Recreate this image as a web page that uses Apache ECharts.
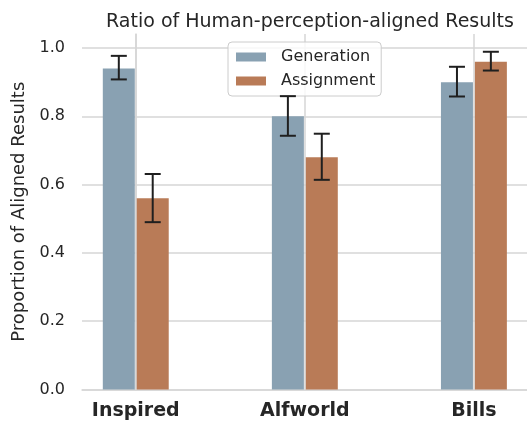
<!DOCTYPE html>
<html>
<head>
<meta charset="utf-8">
<script src="https://cdn.jsdelivr.net/npm/echarts@6/dist/echarts.min.js"></script>
<style>html,body{margin:0;padding:0;background:#fff}#c{width:527px;height:423px}</style>
</head>
<body>
<div id="c"></div>
<script>
const categories = ['Inspired', 'Alfworld', 'Bills'];
const generation = [0.94, 0.80, 0.90];
const generationLow = [0.908, 0.743, 0.858];
const generationHigh = [0.977, 0.859, 0.945];
const assignment = [0.56, 0.68, 0.96];
const assignmentLow = [0.49, 0.614, 0.934];
const assignmentHigh = [0.631, 0.749, 0.989];
const yTicks = [0, 0.2, 0.4, 0.6, 0.8, 1.0];

const FONT = 'DejaVu Sans';
const TXT = '#262626';
const GRIDC = '#d6d6d6';
const catIdx = categories.map((_, i) => i);

function errItem(offsetPx) {
  return function (params, api) {
    const x = api.value(0);
    const lo = api.coord([x, api.value(1)]);
    const hi = api.coord([x, api.value(2)]);
    const cx = lo[0] + offsetPx;
    const cap = 8;
    const style = { stroke: '#1f1f1f', lineWidth: 2 };
    return {
      type: 'group',
      children: [
        { type: 'line', shape: { x1: cx, y1: lo[1], x2: cx, y2: hi[1] }, style },
        { type: 'line', shape: { x1: cx - cap, y1: lo[1], x2: cx + cap, y2: lo[1] }, style },
        { type: 'line', shape: { x1: cx - cap, y1: hi[1], x2: cx + cap, y2: hi[1] }, style }
      ]
    };
  };
}

const chart = echarts.init(document.getElementById('c'), null, { renderer: 'canvas' });
chart.setOption({
  animation: false,
  backgroundColor: '#fff',
  textStyle: { fontFamily: FONT },
  title: {
    text: 'Ratio of Human-perception-aligned Results',
    left: 305, top: 8, textAlign: 'center',
    textStyle: { fontFamily: FONT, fontSize: 19, fontWeight: 'normal', color: TXT }
  },
  legend: {
    data: ['Generation', 'Assignment'],
    orient: 'vertical',
    left: 228, top: 42,
    padding: [7, 6, 7, 8],
    itemWidth: 30, itemHeight: 9, itemGap: 8,
    icon: 'rect',
    backgroundColor: 'rgba(255,255,255,0.8)',
    borderColor: '#cccccc', borderWidth: 1, borderRadius: 4,
    textStyle: { fontFamily: FONT, fontSize: 16, color: TXT, padding: [0, 0, 0, 10], lineHeight: 16 }
  },
  grid: { left: 82, right: 0, top: 34, bottom: 33.5, containLabel: false },
  xAxis: {
    type: 'value', min: -0.318, max: 2.314,
    axisLine: { show: true, lineStyle: { color: GRIDC, width: 1.5 } },
    axisTick: { show: false, customValues: catIdx },
    axisLabel: {
      customValues: catIdx,
      formatter: v => categories[Math.round(v)] || '',
      fontFamily: FONT, fontSize: 19, fontWeight: 'bold', color: TXT, margin: 12
    },
    splitLine: { show: true, lineStyle: { color: GRIDC, width: 1.5 } }
  },
  yAxis: {
    type: 'value', min: 0, max: 1.041,
    name: 'Proportion of Aligned Results',
    nameLocation: 'middle', nameGap: 49, nameRotate: 90,
    nameTextStyle: { fontFamily: FONT, fontSize: 18, color: TXT },
    axisLine: { show: true, lineStyle: { color: GRIDC, width: 1.5 } },
    axisTick: { show: false, customValues: yTicks },
    axisLabel: {
      customValues: yTicks,
      formatter: v => v.toFixed(1),
      fontFamily: FONT, fontSize: 16, color: TXT, margin: 17
    },
    splitLine: { show: true, lineStyle: { color: GRIDC, width: 1.5 } }
  },
  series: [
    {
      name: 'Generation', type: 'bar',
      data: catIdx.map(i => [i, generation[i]]),
      barWidth: 32, barGap: '6%',
      itemStyle: { color: '#89a1b2' }
    },
    {
      name: 'Assignment', type: 'bar',
      data: catIdx.map(i => [i, assignment[i]]),
      barWidth: 32, barGap: '6%',
      itemStyle: { color: '#b97b57' }
    },
    {
      name: 'GenErr', type: 'custom', renderItem: errItem(-16.95), z: 5,
      data: catIdx.map(i => [i, generationLow[i], generationHigh[i]])
    },
    {
      name: 'AsgErr', type: 'custom', renderItem: errItem(16.95), z: 5,
      data: catIdx.map(i => [i, assignmentLow[i], assignmentHigh[i]])
    }
  ]
});
</script>
</body>
</html>
